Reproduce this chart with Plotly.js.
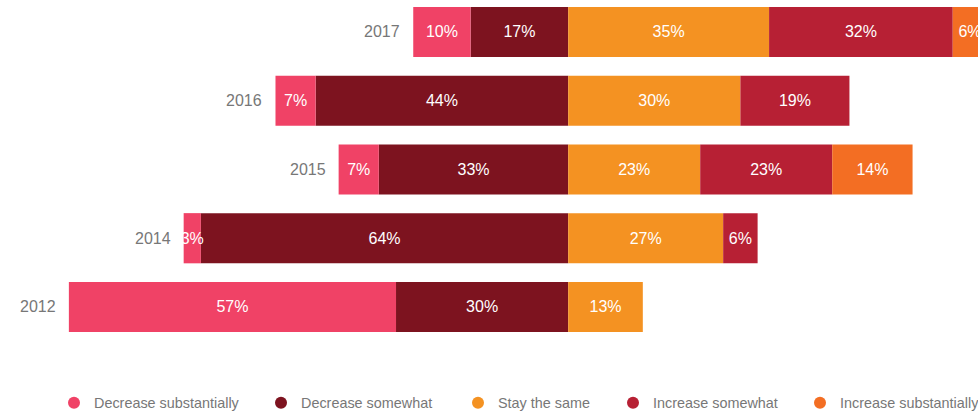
<!DOCTYPE html>
<html>
<head>
<meta charset="utf-8">
<script src="https://cdn.plot.ly/plotly-3.0.1.min.js"></script>
<style>html,body{margin:0;padding:0;background:#fff;}#chart{width:978px;height:413px;}</style>
</head>
<body>
<div id="chart"></div>
<script>
var years = ['2017', '2016', '2015', '2014', '2012'];
var decreaseSubstantially = [10, 7, 7, 3, 57];
var decreaseSomewhat = [17, 44, 33, 64, 30];
var stayTheSame = [35, 30, 23, 27, 13];
var increaseSomewhat = [32, 19, 23, 6, 0];
var increaseSubstantially = [6, 0, 14, 0, 0];

var seriesNames = ['Decrease substantially', 'Decrease somewhat', 'Stay the same', 'Increase somewhat', 'Increase substantially'];
var colors = ['#f04266', '#7d131f', '#f49222', '#b72034', '#f36e23'];

var FONT = 'Liberation Sans, Arial, Helvetica, sans-serif';

function lbl(arr) { return arr.map(function (v) { return v > 0 ? v + '%' : ''; }); }
function neg(arr) { return arr.map(function (v) { return -v; }); }

function barTrace(vals, shown, color) {
  return {
    type: 'bar', orientation: 'h', y: years, x: vals,
    text: lbl(shown), texttemplate: '%{text}', textposition: 'inside',
    insidetextanchor: 'middle', textangle: 0, constraintext: 'none',
    textfont: {family: FONT, size: 16, color: '#ffffff'},
    marker: {color: color, line: {width: 0}},
    showlegend: false, hoverinfo: 'none', cliponaxis: true
  };
}

var traces = [
  barTrace(neg(decreaseSomewhat), decreaseSomewhat, colors[1]),
  barTrace(neg(decreaseSubstantially), decreaseSubstantially, colors[0]),
  barTrace(stayTheSame, stayTheSame, colors[2]),
  barTrace(increaseSomewhat, increaseSomewhat, colors[3]),
  barTrace(increaseSubstantially, increaseSubstantially, colors[4])
];

var legendTextStarts = [94, 301, 498, 653, 840];
var legendKeys = ['legend', 'legend2', 'legend3', 'legend4', 'legend5'];

seriesNames.forEach(function (n, i) {
  traces.push({
    type: 'scatter', mode: 'markers', x: [null], y: [null], name: n,
    legend: legendKeys[i],
    marker: {color: colors[i], size: 12, symbol: 'circle'}, hoverinfo: 'none'
  });
});

// year labels: category names are numeric strings, so refer to them by index
var annotations = years.map(function (yr, i) {
  return {
    x: -(decreaseSubstantially[i] + decreaseSomewhat[i]), y: i, xref: 'x', yref: 'y',
    text: yr, showarrow: false, xanchor: 'right', yanchor: 'middle', xshift: -11,
    font: {family: FONT, size: 16, color: '#777777'}
  };
});

var layout = {
  width: 978, height: 413,
  margin: {l: 0, r: 0, t: 0, b: 68},
  paper_bgcolor: '#ffffff', plot_bgcolor: '#ffffff',
  barmode: 'relative', bargap: 0.27,
  xaxis: {range: [-99.0, 71.4], showgrid: false, zeroline: false, showticklabels: false, fixedrange: true},
  yaxis: {type: 'category', range: [4.553, -0.465], showgrid: false, zeroline: false, showticklabels: false, fixedrange: true},
  annotations: annotations,
  showlegend: true,
  hovermode: false
};

legendKeys.forEach(function (k, i) {
  layout[k] = {
    orientation: 'h', xref: 'container', yref: 'container',
    x: (legendTextStarts[i] - 40) / 978, xanchor: 'left',
    y: 1 - 403 / 413, yanchor: 'middle',
    font: {family: FONT, size: 14.4, color: '#777777'},
    bgcolor: 'rgba(0,0,0,0)', itemclick: false, itemdoubleclick: false
  };
});

Plotly.newPlot('chart', traces, layout, {displayModeBar: false, staticPlot: true});
</script>
</body>
</html>
